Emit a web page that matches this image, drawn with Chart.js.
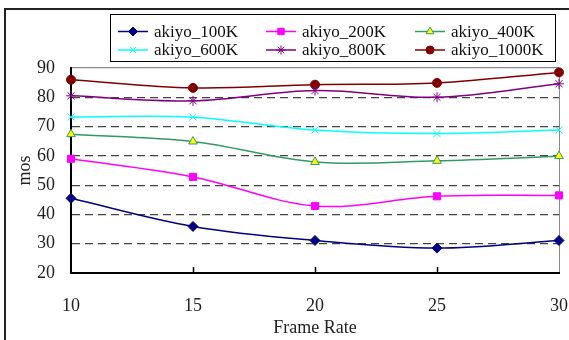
<!DOCTYPE html>
<html>
<head>
<meta charset="utf-8">
<script src="https://cdn.jsdelivr.net/npm/chart.js@4/dist/chart.umd.min.js"></script>
<style>
  html, body { margin: 0; padding: 0; background: #fff; }
  #wrap { position: relative; width: 569px; height: 340px; overflow: hidden; }
  #frame { position: absolute; left: 4px; top: 8px; width: 700px; height: 400px;
           border-left: 2px solid #222; border-top: 2px solid #222; }
  #chart { position: absolute; left: 0; top: 0; }
</style>
</head>
<body>
<div id="wrap">
  <div id="frame"></div>
  <canvas id="chart" width="569" height="340"></canvas>
</div>
<script>
// ===== DATA =====
const frameRates = ['10', '15', '20', '25', '30'];

const akiyo100K  = [45.5, 35.9, 31.1, 28.5, 31.1];
const akiyo200K  = [59.0, 52.8, 42.9, 46.2, 46.5];
const akiyo400K  = [67.4, 64.9, 57.9, 58.3, 59.9];
const akiyo600K  = [73.3, 73.2, 68.8, 67.6, 68.8];
const akiyo800K  = [80.5, 78.8, 82.3, 80.0, 84.6];
const akiyo1000K = [86.0, 83.2, 84.3, 84.9, 88.5];

const yMin = 20, yMax = 90, yStep = 10;

const serif = "'Liberation Serif', 'DejaVu Serif', serif";

function series(label, data, line, fill, border, style, radius){
    return {
        label: label,
        data: data,
        borderColor: line,
        backgroundColor: line,
        borderWidth: 1.5,
        tension: 0.35,
        pointStyle: style,
        pointRadius: radius,
        pointHoverRadius: radius,
        pointBackgroundColor: fill,
        pointBorderColor: border,
        pointBorderWidth: 1
    };
}

// ===== LEGEND (line + marker, boxed) =====
const boxLegend = {
    id: 'boxLegend',
    afterDraw(chart){
        const ctx = chart.ctx;
        ctx.save();
        ctx.strokeStyle = '#000';
        ctx.lineWidth = 1;
        ctx.strokeRect(110.5, 14.5, 445, 47);

        const colX = [118, 266, 415];
        const rowY = [31.5, 50];
        ctx.font = "17px " + serif;
        ctx.textBaseline = 'middle';
        chart.data.datasets.forEach((ds, i) => {
            const x = colX[i % 3];
            const y = rowY[Math.floor(i / 3)];
            ctx.strokeStyle = ds.borderColor;
            ctx.lineWidth = 1.5;
            ctx.beginPath();
            ctx.moveTo(x, y);
            ctx.lineTo(x + 30, y);
            ctx.stroke();
            ctx.fillStyle = ds.pointBackgroundColor;
            ctx.strokeStyle = ds.pointBorderColor;
            ctx.lineWidth = 1;
            Chart.helpers.drawPoint(ctx, {
                pointStyle: ds.pointStyle,
                radius: ds.pointRadius - 0.5,
                borderWidth: 1,
                rotation: 0
            }, x + 15, y);
            ctx.fillStyle = '#111';
            ctx.fillText(ds.label, x + 36, y + 1);
        });
        ctx.restore();
    }
};

// ===== INSIDE TICKS ON X AXIS =====
const innerTicks = {
    id: 'innerTicks',
    afterDatasetsDraw(chart){
        const ctx = chart.ctx;
        const xs = chart.scales.x;
        const bottom = chart.chartArea.bottom;
        ctx.save();
        ctx.strokeStyle = '#000';
        ctx.lineWidth = 1.5;
        frameRates.forEach((v, i) => {
            if(i === 0 || i === frameRates.length - 1) return;
            const px = Math.round(xs.getPixelForValue(i)) + 0.5;
            ctx.beginPath();
            ctx.moveTo(px, bottom);
            ctx.lineTo(px, bottom - 6);
            ctx.stroke();
        });
        ctx.restore();
    }
};

new Chart(document.getElementById('chart'), {
    type: 'line',
    data: {
        labels: frameRates,
        datasets: [
            series('akiyo_100K',  akiyo100K,  '#000080', '#000080', '#000080', 'rectRot', 5),
            series('akiyo_200K',  akiyo200K,  '#ff00ff', '#ff00ff', '#ff00ff', 'rect', 5),
            series('akiyo_400K',  akiyo400K,  '#339966', '#ffff00', '#339966', 'triangle', 5),
            series('akiyo_600K',  akiyo600K,  '#00ffff', '#00ffff', '#00ffff', 'crossRot', 5),
            series('akiyo_800K',  akiyo800K,  '#800080', '#800080', '#800080', 'star', 5),
            series('akiyo_1000K', akiyo1000K, '#800000', '#800000', '#800000', 'circle', 4.5)
        ]
    },
    options: {
        responsive: false,
        animation: false,
        clip: false,
        layout: { padding: { top: 68, right: 10, left: 0, bottom: 0 } },
        plugins: {
            legend: { display: false },
            tooltip: { enabled: false }
        },
        scales: {
            x: {
                type: 'category',
                offset: false,
                afterFit(scale){
                    scale.height = 67;
                    scale.paddingLeft = 0;
                    scale.paddingRight = 0;
                },
                grid: {
                    drawTicks: false,
                    color: ctx => ctx.index === frameRates.length - 1 ? '#888' : 'rgba(0,0,0,0)',
                    lineWidth: 1
                },
                border: { color: '#000', width: 2 },
                ticks: {
                    padding: 22,
                    color: '#222',
                    font: { family: serif, size: 18 }
                },
                title: {
                    display: true,
                    text: 'Frame Rate',
                    color: '#222',
                    font: { family: serif, size: 18 },
                    padding: { top: 0, bottom: 1 }
                }
            },
            y: {
                min: yMin,
                max: yMax,
                afterFit(scale){ scale.width = 71; },
                grid: {
                    drawTicks: false,
                    color: ctx => {
                        const v = ctx.tick ? ctx.tick.value : null;
                        if(v === yMin) return 'rgba(0,0,0,0)';
                        if(v === yMax) return '#888';
                        return '#444';
                    },
                    lineWidth: 1.2
                },
                border: {
                    color: '#000',
                    width: 2,
                    dash: ctx => (ctx.tick && ctx.tick.value !== yMax) ? [8, 5] : []
                },
                ticks: {
                    stepSize: yStep,
                    padding: 16,
                    color: '#222',
                    font: { family: serif, size: 18 }
                },
                title: {
                    display: true,
                    text: 'mos',
                    color: '#222',
                    font: { family: serif, size: 18 },
                    padding: { top: 14, bottom: 0 }
                }
            }
        }
    },
    plugins: [boxLegend, innerTicks]
});
</script>
</body>
</html>
